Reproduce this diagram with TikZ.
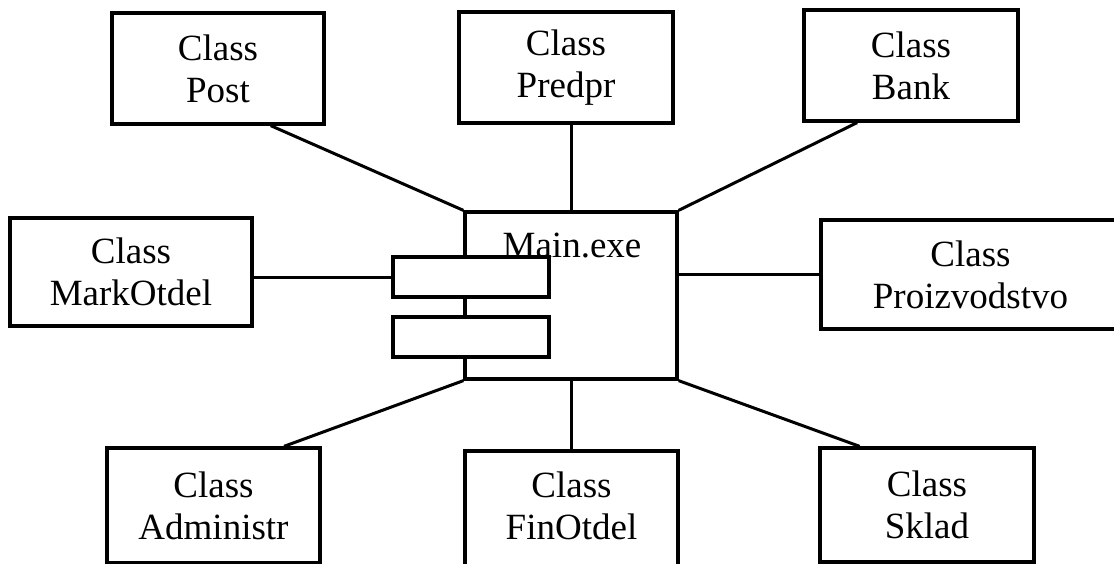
\documentclass[tikz,border=0pt]{standalone}
\usepackage{fontspec}
\setmainfont{Liberation Serif}
\usetikzlibrary{calc}
\begin{document}
\begin{tikzpicture}[x=1pt,y=-1pt,
  box/.style={draw,line width=3.3pt,rectangle,inner sep=0pt,align=center,
    font=\fontsize{37}{42}\selectfont,fill=white},
  slot/.style={draw,line width=3.3pt,rectangle,inner sep=0pt,fill=white,
    minimum width=156pt,minimum height=40pt},
  lbl/.style={inner sep=0pt,align=center,font=\fontsize{37}{42}\selectfont},
  conn/.style={line width=3pt}]
\useasboundingbox (0,0) rectangle (1114,564);
% class boxes
\node[box,minimum width=212pt,minimum height=111pt] (post) at (218,68.5) {Class\\Post};
\node[box,minimum width=214pt,minimum height=111pt] (predpr) at (566,67.5) {Class\\Predpr};
\node[box,minimum width=214pt,minimum height=111pt] (bank) at (911,65.5) {Class\\Bank};
\node[box,minimum width=242pt,minimum height=108pt] (mark) at (131,272) {Class\\MarkOtdel};
\node[box,minimum width=299pt,minimum height=109pt] (proiz) at (970.5,274.5) {Class\\Proizvodstvo};
\node[box,minimum width=213pt,minimum height=115pt] (admin) at (213.5,505.5) {Class\\Administr};
\node[box,minimum width=213pt,minimum height=120pt] (fin) at (571.5,511) {};
\node[lbl] (finl) at (571.5,506) {Class\\FinOtdel};
\node[box,minimum width=214pt,minimum height=114pt] (sklad) at (927,505) {Class\\Sklad};
% main component
\node[box,minimum width=212pt,minimum height=167pt] (main) at (571,295.5) {};
\node[lbl,anchor=base] (mainl) at (572,258) {Main.exe};
\node[slot] (s1) at (471,277) {};
\node[slot] (s2) at (471,337) {};
% connectors
\draw[conn] ($(post.south west)!0.745!(post.south east)$) -- (main.north west);
\draw[conn] (main.north) -- (main.north |- predpr.south);
\draw[conn] ($(bank.south west)!0.252!(bank.south east)$) -- (main.north east);
\draw[conn] (mark.east |- s1.west) -- (s1.west);
\draw[conn] (main.east |- proiz.west) -- (proiz.west);
\draw[conn] (main.south west) -- ($(admin.north west)!0.826!(admin.north east)$);
\draw[conn] (main.south) -- (main.south |- fin.north);
\draw[conn] (main.south east) -- ($(sklad.north west)!0.19!(sklad.north east)$);
\end{tikzpicture}
\end{document}
